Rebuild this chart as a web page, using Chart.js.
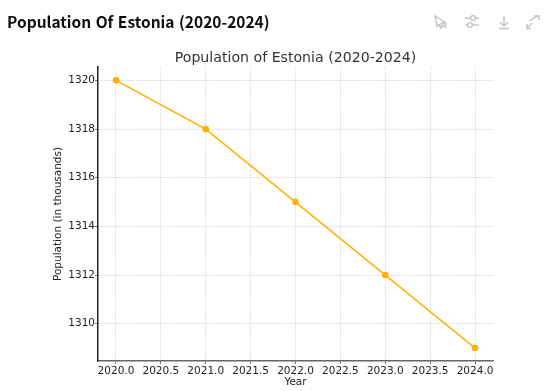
<!DOCTYPE html>
<html>
<head>
<meta charset="utf-8">
<title>Population Of Estonia (2020-2024)</title>
<script src="https://cdn.jsdelivr.net/npm/chart.js@4"></script>
<style>
  html, body { margin: 0; padding: 0; background: #fff; overflow: hidden; }
  h1 { position: absolute; left: 7px; top: 9px; margin: 0; font: bold 15.5px/24px "Noto Sans CJK KR", sans-serif; word-spacing: 1px; color: #0d0d0d; white-space: nowrap; }
  #icons { position: absolute; left: 0; top: 1px; }
  #icons * { fill: none; stroke: #c4c4c4; stroke-width: 1.4; }
  canvas { position: absolute; left: 0; top: 0; }
</style>
</head>
<body>
<canvas id="popChart" width="551" height="391"></canvas>
<h1>Population Of Estonia (2020-2024)</h1>
<svg id="icons" width="551" height="40">
  <path d="M435 15 L445 21 L437 25 Z M436 26 l3 -2 l2 3 l2 -3 l2 2 M443 22 l3 1 l-1 4"/>
  <path d="M465 17 H470 M476 17 H479 M465 24 H467 M473 24 H479"/>
  <circle cx="473" cy="17" r="2.4"/><circle cx="470" cy="24" r="2.4"/>
  <path d="M504 15 V24 M500 21 L504 25 L508 21 M499 27.5 H509"/>
  <path d="M529 20 L538 15 M534 15 H539 V19 M527 27 L532 22 M527 23 V27.5 H531"/>
</svg>
<script>
const years = [2020, 2021, 2022, 2023, 2024];
const population = [1320, 1318, 1315, 1312, 1309];
const xTicks = [2020, 2020.5, 2021, 2021.5, 2022, 2022.5, 2023, 2023.5, 2024];
const yTicks = [1310, 1312, 1314, 1316, 1318, 1320];

const font = "'DejaVu Sans', sans-serif";
const gridColor = "rgba(176,176,176,0.62)";

new Chart(document.getElementById("popChart").getContext("2d"), {
  type: "line",
  data: {
    datasets: [{
      data: years.map((y, i) => ({ x: y, y: population[i] })),
      borderColor: "#ffb000",
      backgroundColor: "#ffb000",
      borderWidth: 1.5,
      pointRadius: 2.5,
      pointHoverRadius: 2.5,
      tension: 0,
    }],
  },
  options: {
    responsive: false,
    animation: false,
    layout: { padding: { top: 50, right: 58, left: 0, bottom: 0 } },
    plugins: {
      legend: { display: false },
      tooltip: { enabled: false },
      title: {
        display: true,
        fullSize: false,
        text: "Population of Estonia (2020-2024)",
        color: "#333",
        font: { family: font, size: 14.15, weight: "normal" },
        padding: { top: 0, bottom: 0 },
      },
    },
    scales: {
      x: {
        type: "linear",
        min: 2019.8,
        max: 2024.2,
        title: { display: true, text: "Year", color: "#222", font: { family: font, size: 10.5 }, padding: { top: 0, bottom: 2 } },
        afterBuildTicks: (axis) => { axis.ticks = xTicks.map((v) => ({ value: v })); },
        afterFit: (axis) => { axis.height = 30; },
        ticks: {
          color: "#222",
          font: { family: font, size: 10.5 },
          maxRotation: 0,
          autoSkip: false,
          padding: 1,
          callback: (v) => v.toFixed(1),
        },
        grid: { color: gridColor, tickColor: "#333", tickLength: 3, tickBorderDash: [], lineWidth: 0.7 },
        border: { color: "#666", width: 1.5, dash: [1.5, 1] },
      },
      y: {
        min: 1308.47,
        max: 1320.55,
        title: { display: true, text: "Population (in thousands)", color: "#222", font: { family: font, size: 10.5 }, padding: { top: 52, bottom: 0 } },
        afterBuildTicks: (axis) => { axis.ticks = yTicks.map((v) => ({ value: v })); },
        afterFit: (axis) => { axis.width = 98; },
        ticks: {
          color: "#222",
          font: { family: font, size: 10.5 },
          padding: 0,
          callback: (v) => String(v),
        },
        grid: { color: gridColor, tickColor: "#333", tickLength: 3, tickBorderDash: [], lineWidth: 0.7 },
        border: { color: "#222", width: 1.5, dash: [1.5, 1] },
      },
    },
  },
});
</script>
</body>
</html>
